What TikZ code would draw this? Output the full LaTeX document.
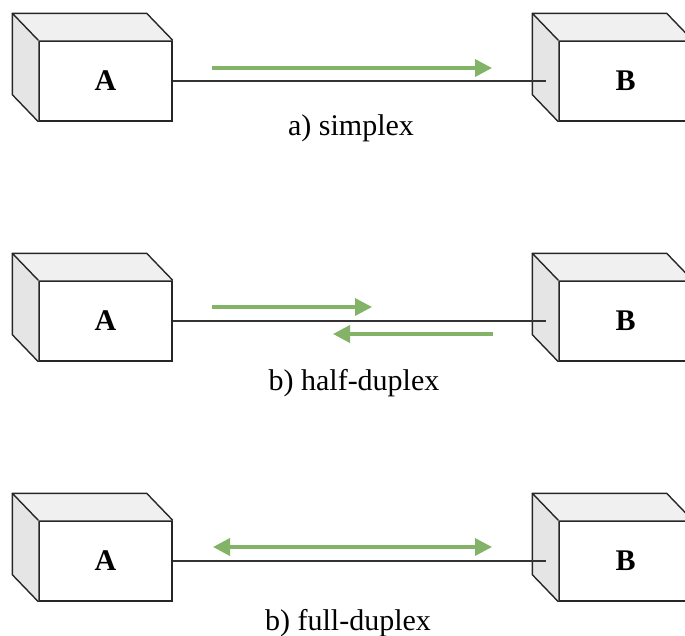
\documentclass[tikz,border=0pt]{standalone}
\usepackage{fontspec}
\setmainfont{Liberation Serif}
\usetikzlibrary{arrows.meta}
\definecolor{topface}{RGB}{240,240,240}
\definecolor{sideface}{RGB}{229,229,229}
\definecolor{flowgreen}{RGB}{130,179,102}
\tikzset{
  front/.style={draw=black!85, line width=1.4pt, fill=white, minimum width=133pt, minimum height=80pt, inner sep=0pt, font=\bfseries\fontsize{30}{30}\selectfont},
  face/.style={draw=black!85, line width=1.4pt, line join=round},
  wire/.style={draw=black!80, line width=1.6pt},
  tip/.style={},
  flow/.style={draw=flowgreen, line width=3.6pt, -{Triangle[length=17pt,width=17pt]}},
  flowboth/.style={draw=flowgreen, line width=3.6pt, {Triangle[length=17pt,width=17pt]}-{Triangle[length=17pt,width=17pt]}},
  caption/.style={anchor=base, font=\fontsize{30}{30}\selectfont}
}
\newcommand{\cubefaces}[1]{%
  \fill[topface] (#1.north west) -- ++(-26,-27) -- ([shift={(-26,-27)}]#1.north east) -- (#1.north east) -- cycle;
  \fill[sideface] (#1.north west) -- ++(-26,-27) -- ([shift={(-26,-27)}]#1.south west) -- (#1.south west) -- cycle;
  \draw[face] (#1.north west) -- ++(-26,-27) -- ([shift={(-26,-27)}]#1.north east) -- (#1.north east);
  \draw[face] ([shift={(-26,-27)}]#1.north west) -- ([shift={(-26,-27)}]#1.south west) -- (#1.south west);
}
\begin{document}
\begin{tikzpicture}[x=1pt,y=-1pt]
\useasboundingbox (0,0) rectangle (685,635);
\foreach \r/\yy in {1/81,2/321,3/561}{
  \node[front] (A\r) at (105.5,\yy) {A};
  \node[front] (B\r) at (625.5,\yy) {B};
  \cubefaces{A\r}
  \cubefaces{B\r}
  \coordinate (E\r) at (546,\yy);
  \draw[wire] (A\r.east) -- (E\r);
}
% simplex
\coordinate (s1) at (212,68);
\coordinate (t1) at (492,68);
\draw[flow] (s1) -- (t1);
\node[caption] (L1) at (351,135) {a) simplex};
% half-duplex
\coordinate (s2) at (212,307);
\coordinate (t2) at (372,307);
\draw[flow] (s2) -- (t2);
\coordinate (s3) at (493,334);
\coordinate (t3) at (333,334);
\draw[flow] (s3) -- (t3);
\node[caption] (L2) at (354,390) {b) half-duplex};
% full-duplex
\coordinate (s4) at (213,547);
\coordinate (t4) at (492,547);
\draw[flowboth] (s4) -- (t4);
\node[caption] (L3) at (348,630) {b) full-duplex};
\end{tikzpicture}
\end{document}
